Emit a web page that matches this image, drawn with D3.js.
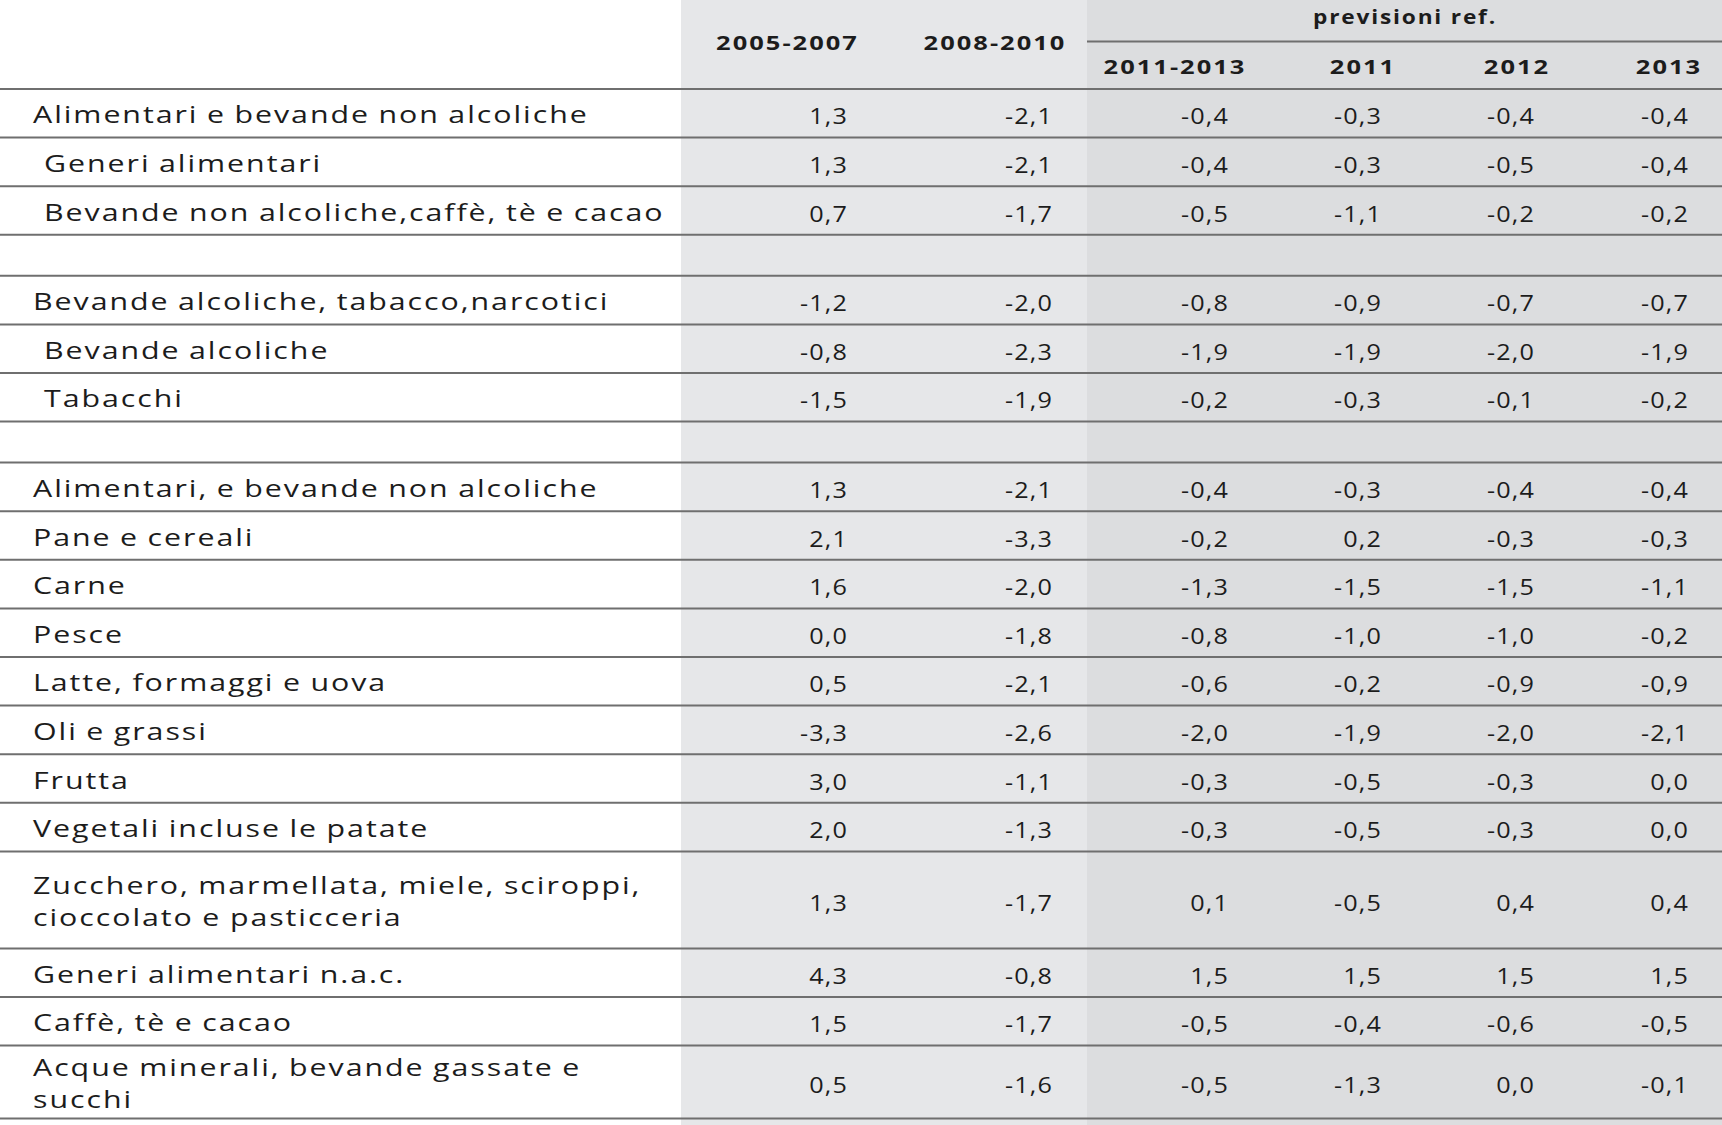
<!DOCTYPE html>
<html><head><meta charset="utf-8">
<script src="https://cdn.jsdelivr.net/npm/d3@7"></script>
<style>
html,body{margin:0;padding:0;background:#fff;}
svg{display:block;}
</style></head>
<body>
<script>
// ---------- DATA ----------
const rowLabels = [
  "Alimentari e bevande non alcoliche",
  "Generi alimentari",
  "Bevande non alcoliche,caffè, tè e cacao",
  "",
  "Bevande alcoliche, tabacco,narcotici",
  "Bevande alcoliche",
  "Tabacchi",
  "",
  "Alimentari, e bevande non alcoliche",
  "Pane e cereali",
  "Carne",
  "Pesce",
  "Latte, formaggi e uova",
  "Oli e grassi",
  "Frutta",
  "Vegetali incluse le patate",
  "Zucchero, marmellata, miele, sciroppi,|cioccolato e pasticceria",
  "Generi alimentari n.a.c.",
  "Caffè, tè e cacao",
  "Acque minerali, bevande gassate e|succhi"
];
const rowIndent = [0,1,1,0,0,1,1,0,0,0,0,0,0,0,0,0,0,0,0,0];
const columns = ["2005-2007","2008-2010","2011-2013","2011","2012","2013"];
const groupHeader = "previsioni ref.";
const v2005_2007 = [1.3, 1.3, 0.7, null, -1.2, -0.8, -1.5, null, 1.3, 2.1, 1.6, 0.0, 0.5, -3.3, 3.0, 2.0, 1.3, 4.3, 1.5, 0.5];
const v2008_2010 = [-2.1, -2.1, -1.7, null, -2.0, -2.3, -1.9, null, -2.1, -3.3, -2.0, -1.8, -2.1, -2.6, -1.1, -1.3, -1.7, -0.8, -1.7, -1.6];
const v2011_2013 = [-0.4, -0.4, -0.5, null, -0.8, -1.9, -0.2, null, -0.4, -0.2, -1.3, -0.8, -0.6, -2.0, -0.3, -0.3, 0.1, 1.5, -0.5, -0.5];
const v2011 = [-0.3, -0.3, -1.1, null, -0.9, -1.9, -0.3, null, -0.3, 0.2, -1.5, -1.0, -0.2, -1.9, -0.5, -0.5, -0.5, 1.5, -0.4, -1.3];
const v2012 = [-0.4, -0.5, -0.2, null, -0.7, -2.0, -0.1, null, -0.4, -0.3, -1.5, -1.0, -0.9, -2.0, -0.3, -0.3, 0.4, 1.5, -0.6, 0.0];
const v2013 = [-0.4, -0.4, -0.2, null, -0.7, -1.9, -0.2, null, -0.4, -0.3, -1.1, -0.2, -0.9, -2.1, 0.0, 0.0, 0.4, 1.5, -0.5, -0.1];
const seriesValues = [v2005_2007, v2008_2010, v2011_2013, v2011, v2012, v2013];

// ---------- LAYOUT ----------
const W = 1722, H = 1125;
const headerH = 89;
const FONT = "'Open Sans', 'Noto Sans', sans-serif";
const textColor = "#1c1c1c";
const lineColor = "#6f6f6f";

const svg = d3.select("body").append("svg").attr("width", W).attr("height", H);

// row geometry
const rows = rowLabels.map((lab, i) => {
  const lines = lab === "" ? [] : lab.split("|");
  let h = lab === "" ? 41 : (lines.length > 1 ? 97 : 48.6);
  if (i === rowLabels.length - 1 && lines.length > 1) h = 73;
  return {i, lab, lines, h, indent: rowIndent[i]};
});
let yAcc = headerH;
rows.forEach(r => { r.y0 = yAcc; yAcc += r.h; r.y1 = yAcc; r.cy = (r.y0 + r.y1) / 2; });

const xCol = d3.scaleOrdinal().domain(columns).range([848, 1053, 1229, 1382, 1535, 1689]);
const xHead = d3.scaleOrdinal().domain(columns).range([787.5, 995, 1175, 1363, 1517, 1669]);

// backgrounds
svg.append("rect").attr("x", 681).attr("y", 0).attr("width", 1087 - 681).attr("height", H).attr("fill", "#e6e7e9");
svg.append("rect").attr("x", 1087).attr("y", 0).attr("width", W - 1087).attr("height", H).attr("fill", "#dcdddf");

// helper: horizontal scale so that sample text spans target width
function fitScale(g, sample, target) {
  const t = g.append("text").text(sample);
  const w = t.node().getComputedTextLength();
  t.remove();
  return target / w;
}
function put(g, x, y, txt, sx, anchor) {
  return g.append("text")
    .attr("transform", `translate(${x},${y}) scale(${sx},1)`)
    .attr("text-anchor", anchor)
    .text(txt);
}

// label font
const labelG = svg.append("g").attr("font-family", FONT).attr("font-size", 23.5)
  .attr("letter-spacing", 1.5).attr("word-spacing", -1).attr("fill", textColor);
const labelSX = fitScale(labelG, "Alimentari e bevande non alcoliche", 556);

// value font
const valueG = svg.append("g").attr("font-family", FONT).attr("font-size", 22)
  .attr("letter-spacing", 1).attr("fill", textColor);
const valueSX = fitScale(valueG, "-2,1", 48);

// header font
const headG = svg.append("g").attr("font-family", FONT).attr("font-size", 19).attr("font-weight", 700)
  .attr("letter-spacing", 1.5).attr("fill", textColor);
const headSX = fitScale(headG, groupHeader, 184);
const headNumSX = fitScale(headG, "2005-2007", 143);

// header texts
columns.forEach((c, i) => put(headG, xHead(c), i < 2 ? 50 : 74, c, headNumSX, "middle"));
put(headG, 1405, 24, groupHeader, headSX, "middle");

// header rule under group title
svg.append("line").attr("x1", 1087).attr("x2", W).attr("y1", 41.5).attr("y2", 41.5)
  .attr("stroke", lineColor).attr("stroke-width", 2);

// row lines
const lineYs = [headerH].concat(rows.map(r => r.y1));
svg.append("g").selectAll("line").data(lineYs).join("line")
  .attr("x1", 0).attr("x2", W).attr("y1", d => d).attr("y2", d => d)
  .attr("stroke", lineColor).attr("stroke-width", 2);

// labels
const lh = 31.5;
rows.filter(r => r.lines.length).forEach(r => {
  const n = r.lines.length;
  r.lines.forEach((ln, k) => {
    put(labelG, r.indent ? 44 : 33, r.cy + 10 + (k - (n - 1) / 2) * lh, ln, labelSX, "start");
  });
});

// values
const fmt = v => d3.format(".1f")(v).replace("−", "-").replace(".", ",");
columns.forEach((c, ci) => {
  const vals = seriesValues[ci];
  rows.filter(r => vals[r.i] != null).forEach(r => {
    put(valueG, xCol(c), r.cy + 11, fmt(vals[r.i]), valueSX, "end");
  });
});
</script>
</body></html>
